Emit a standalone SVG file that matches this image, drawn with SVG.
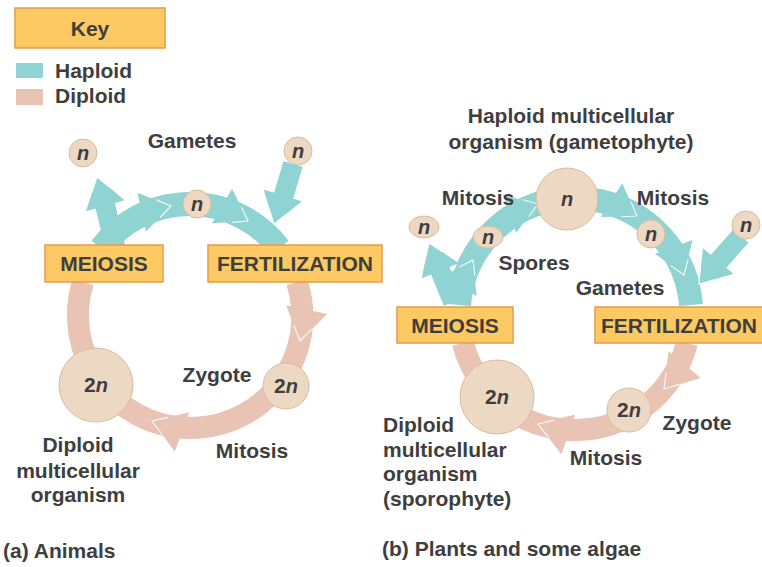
<svg xmlns="http://www.w3.org/2000/svg" xmlns:xlink="http://www.w3.org/1999/xlink" width="762" height="567" viewBox="0 0 762 567">
<style>
text{font-family:"Liberation Sans",Arial,sans-serif;font-weight:bold;fill:#3e3e3e;font-size:21px}
.c{text-anchor:middle}
.box{fill:#fcc962;stroke:#e39c4c;stroke-width:1.5}
.cell{fill:#edd8c4;stroke:#d9bb9e;stroke-width:1}
.n{font-style:italic;font-size:20px}
.hap{fill:none;stroke:#90d3d3;stroke-width:24}
.dip{fill:none;stroke:#e9c3b3;stroke-width:22}
.hh{fill:#90d3d3}
.dh{fill:#e9c3b3}
.v{fill:none;stroke:#ffffff;stroke-width:1.2;opacity:0.85}
</style>
<defs>
<g id="th"><polygon points="0,0 -30,-20 -30,20"/><polyline class="v" points="-13,-9 0,0 -13,9"/></g>
<g id="ph"><polygon points="0,0 -32,-21 -32,21"/><polyline class="v" points="-14,-9 0,0 -14,9"/></g>
</defs>
<rect width="762" height="567" fill="#ffffff"/>

<g id="key">
<rect class="box" x="15" y="8" width="150" height="40"/>
<text class="c" x="90" y="36">Key</text>
<rect x="16" y="63" width="27" height="15" fill="#90d3d3"/>
<text x="55" y="78">Haploid</text>
<rect x="16" y="89" width="27" height="16" fill="#e9c3b3"/>
<text x="55" y="103">Diploid</text>
</g>

<g id="connectors">
<!-- panel a haploid -->
<path class="hap" d="M101,248 A112,112 0 0 1 279,248"/>
<line class="hap" x1="116" y1="250" x2="105" y2="205" style="stroke-width:20"/>
<use href="#th" class="hh" transform="translate(97,177) rotate(-106)"/>
<use href="#th" class="hh" transform="translate(171,206) rotate(-12)"/>
<use href="#th" class="hh" transform="translate(248,221) rotate(30)"/>
<line class="hap" x1="293" y1="164" x2="283" y2="198" style="stroke-width:20"/>
<use href="#th" class="hh" transform="translate(274,224) rotate(107)"/>
<!-- panel a diploid -->
<path class="dip" d="M297,282 A112,112 0 0 1 281,382"/>
<use href="#ph" class="dh" transform="translate(300,341) rotate(102)"/>
<path class="dip" d="M281,382 A112,112 0 0 1 100,382"/>
<use href="#ph" class="dh" transform="translate(152,421) rotate(200)"/>
<path class="dip" d="M100,382 A112,112 0 0 1 83,282"/>
<!-- panel b haploid -->
<path class="hap" d="M459,305 A116,116 0 0 1 567,198"/>
<line class="hap" x1="453" y1="302" x2="438" y2="265" style="stroke-width:20"/>
<use href="#th" class="hh" transform="translate(429,243) rotate(-112)"/>
<use href="#th" class="hh" transform="translate(473,260) rotate(-62)"/>
<use href="#th" class="hh" transform="translate(538,204) rotate(-19)"/>
<path class="hap" d="M595,200 A116,116 0 0 1 691,305"/>
<use href="#th" class="hh" transform="translate(637,216) rotate(32)"/>
<use href="#th" class="hh" transform="translate(684,275) rotate(70)"/>
<line class="hap" x1="741" y1="236" x2="718" y2="262" style="stroke-width:20"/>
<use href="#th" class="hh" transform="translate(699,284) rotate(130)"/>
<!-- panel b diploid -->
<path class="dip" d="M687,343 A116,116 0 0 1 632,415"/>
<use href="#ph" class="dh" transform="translate(664,389) rotate(130)"/>
<path class="dip" d="M632,415 A116,116 0 0 1 496,399"/>
<use href="#ph" class="dh" transform="translate(538,424) rotate(199)"/>
<path class="dip" d="M496,399 A116,116 0 0 1 463,343"/>
</g>

<!-- panel a nodes -->
<g id="a-gametes-label"><text class="c" x="192" y="148">Gametes</text></g>
<g id="a-gamete-left"><circle class="cell" cx="83" cy="153" r="14"/><text class="c n" x="83" y="160">n</text></g>
<g id="a-gamete-right"><circle class="cell" cx="298" cy="151" r="14"/><text class="c n" x="298" y="158">n</text></g>
<g id="a-gamete-mid"><circle class="cell" cx="197" cy="204" r="14"/><text class="c n" x="197" y="211">n</text></g>
<g id="a-meiosis"><rect class="box" x="45" y="245" width="118" height="37"/><text class="c" x="104" y="271">MEIOSIS</text></g>
<g id="a-fertilization"><rect class="box" x="208" y="245" width="174" height="37"/><text class="c" x="295" y="271">FERTILIZATION</text></g>
<g id="a-diploid"><circle class="cell" cx="96" cy="385" r="37"/><text class="c" x="96" y="392">2<tspan class="n">n</tspan></text></g>
<g id="a-zygote"><circle class="cell" cx="286" cy="386" r="23"/><text class="c" x="286" y="393">2<tspan class="n">n</tspan></text></g>
<g id="a-labels">
<text class="c" x="217" y="382">Zygote</text>
<text class="c" x="252" y="458">Mitosis</text>
<text class="c" x="78" y="452">Diploid</text>
<text class="c" x="78" y="478">multicellular</text>
<text class="c" x="78" y="502">organism</text>
<text x="3" y="558">(a) Animals</text>
</g>

<!-- panel b nodes -->
<g id="b-gametophyte-label">
<text class="c" x="571" y="123">Haploid multicellular</text>
<text class="c" x="571" y="149">organism (gametophyte)</text>
</g>
<g id="b-gametophyte"><circle class="cell" cx="567" cy="199" r="31"/><text class="c n" x="567" y="206">n</text></g>
<g id="b-spore-far"><ellipse class="cell" cx="424" cy="227" rx="15" ry="11"/><text class="c n" x="424" y="234">n</text></g>
<g id="b-spore"><ellipse class="cell" cx="488" cy="237" rx="15" ry="11"/><text class="c n" x="488" y="244">n</text></g>
<g id="b-gamete"><circle class="cell" cx="651" cy="234" r="14"/><text class="c n" x="651" y="241">n</text></g>
<g id="b-gamete-far"><circle class="cell" cx="746" cy="225" r="14"/><text class="c n" x="746" y="232">n</text></g>
<g id="b-meiosis"><rect class="box" x="397" y="307" width="116" height="36"/><text class="c" x="455" y="333">MEIOSIS</text></g>
<g id="b-fertilization"><rect class="box" x="595" y="307" width="180" height="36"/><text x="601" y="333">FERTILIZATION</text></g>
<g id="b-sporophyte"><circle class="cell" cx="497" cy="397" r="37"/><text class="c" x="497" y="404">2<tspan class="n">n</tspan></text></g>
<g id="b-zygote"><circle class="cell" cx="629" cy="410" r="22"/><text class="c" x="629" y="417">2<tspan class="n">n</tspan></text></g>
<g id="b-labels">
<text class="c" x="478" y="205">Mitosis</text>
<text class="c" x="673" y="205">Mitosis</text>
<text class="c" x="534" y="270">Spores</text>
<text class="c" x="620" y="295">Gametes</text>
<text class="c" x="697" y="430">Zygote</text>
<text class="c" x="606" y="465">Mitosis</text>
<text x="383" y="432">Diploid</text>
<text x="383" y="457">multicellular</text>
<text x="383" y="481">organism</text>
<text x="383" y="506">(sporophyte)</text>
<text x="382" y="556">(b) Plants and some algae</text>
</g>
</svg>
